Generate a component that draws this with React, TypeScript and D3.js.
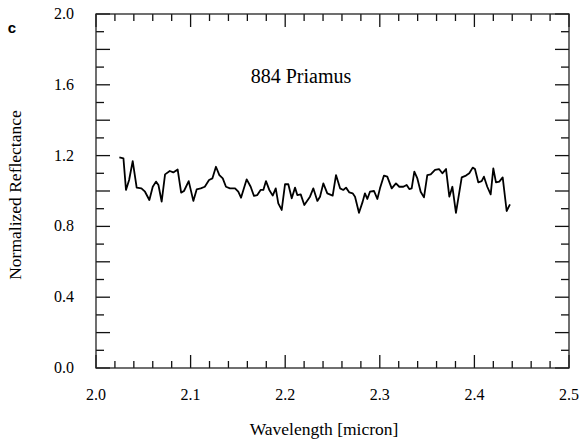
import React from "react";
import * as d3 from "d3";

const wavelength = [
  2.0247, 2.029, 2.0317, 2.035, 2.0388, 2.043, 2.048, 2.0518, 2.0564, 2.06,
  2.0634, 2.066, 2.0694, 2.073, 2.078, 2.0817, 2.0863, 2.09, 2.093, 2.098,
  2.1029, 2.1064, 2.1107, 2.115, 2.1195, 2.123, 2.1268, 2.1304, 2.134, 2.1374,
  2.1416, 2.147, 2.1504, 2.1533, 2.1593, 2.1635, 2.167, 2.1705, 2.174, 2.1769,
  2.1797, 2.1832, 2.1868, 2.19, 2.1927, 2.1963, 2.1998, 2.2033, 2.2069, 2.2104,
  2.2128, 2.2164, 2.2202, 2.2262, 2.2297, 2.234, 2.2368, 2.2403, 2.2445, 2.2502,
  2.2537, 2.258, 2.2614, 2.2643, 2.2678, 2.2713, 2.2738, 2.278, 2.2819, 2.2843,
  2.2868, 2.2896, 2.2939, 2.2974, 2.3002, 2.3044, 2.3079, 2.3126, 2.3171, 2.3206,
  2.3249, 2.3284, 2.3312, 2.3337, 2.3365, 2.3397, 2.3432, 2.3467, 2.3502, 2.3538,
  2.3584, 2.3626, 2.3661, 2.37, 2.3735, 2.3767, 2.3777, 2.3805, 2.3866, 2.3911,
  2.3946, 2.3982, 2.4006, 2.4041, 2.4077, 2.4101, 2.4136, 2.4172, 2.42, 2.4228,
  2.4263, 2.4299, 2.4341, 2.4376,
];

const reflectance = [
  1.19, 1.185, 1.006, 1.062, 1.169, 1.019, 1.015, 0.996, 0.949, 1.024,
  1.053, 1.034, 0.94, 1.094, 1.113, 1.105, 1.122, 0.991, 1.0, 1.056,
  0.944, 1.009, 1.015, 1.024, 1.062, 1.071, 1.137, 1.09, 1.071, 1.024,
  1.015, 1.015, 0.996, 0.962, 1.066, 1.024, 0.972, 0.977, 1.006, 1.006,
  1.056, 1.006, 0.974, 1.015, 0.93, 0.893, 1.038, 1.038, 0.959, 1.019,
  0.977, 0.981, 0.921, 0.968, 1.015, 0.944, 0.968, 1.043, 0.987, 0.974,
  1.09, 1.015, 1.006, 1.019, 0.992, 0.987, 0.968, 0.877, 0.94, 0.987,
  0.955, 0.996, 1.0, 0.955, 1.015, 1.087, 1.081, 1.015, 1.043, 1.024,
  1.024, 1.034, 1.011, 1.015, 1.109, 1.071, 0.996, 0.964, 1.09, 1.094,
  1.119, 1.124, 1.1, 1.124, 0.968, 1.024, 0.987, 0.877, 1.077, 1.087,
  1.1, 1.132, 1.124, 1.049, 1.056, 1.081, 1.024, 0.981, 1.128, 1.049,
  1.053, 1.077, 0.887, 0.925,
];

const xTickLabels = ["2.0", "2.1", "2.2", "2.3", "2.4", "2.5"];
const yTickLabels = ["0.0", "0.4", "0.8", "1.2", "1.6", "2.0"];
const title = "884 Priamus";
const panelLabel = "c";
const xTitle = "Wavelength [micron]";
const yTitle = "Normalized Reflectance";

const W = 583;
const H = 441;
const L = 96, R = 569, T = 14, B = 368;
const SERIF = "Liberation Serif";

export default function App() {
  const x = d3.scaleLinear().domain([2.0, 2.5]).range([L, R]);
  const y = d3.scaleLinear().domain([0, 2.0]).range([B, T]);
  const pts = wavelength.map((w, i) => [w, reflectance[i]] as [number, number]);
  const line = d3
    .line<[number, number]>()
    .x((d) => x(d[0]))
    .y((d) => y(d[1]));

  const xMinor = d3.range(0, 26).map((i) => 2.0 + i * 0.02);
  const yMinor = d3.range(0, 21).map((i) => i * 0.1);

  return (
    <svg
      width={W}
      height={H}
      style={{ position: "absolute", left: 0, top: 0, background: "#fff" }}
    >
      <rect x={0} y={0} width={W} height={H} fill="#fff" />
      <g stroke="#111" strokeWidth={1.3}>
        {xMinor.map((v, i) => {
          const major = i % 5 === 0;
          const len = major ? 13 : 7;
          const px = x(v);
          return (
            <g key={"xt" + i}>
              <line x1={px} x2={px} y1={B} y2={B - len} />
              <line x1={px} x2={px} y1={T} y2={T + len} />
            </g>
          );
        })}
        {yMinor.map((v, i) => {
          const major = i % 2 === 0;
          const len = major ? 14 : 8;
          const py = y(v);
          return (
            <g key={"yt" + i}>
              <line x1={L} x2={L + len} y1={py} y2={py} />
              <line x1={R} x2={R - len} y1={py} y2={py} />
            </g>
          );
        })}
      </g>
      <rect
        x={L}
        y={T}
        width={R - L}
        height={B - T}
        fill="none"
        stroke="#222"
        strokeWidth={1.3}
      />
      <path
        d={line(pts) || ""}
        fill="none"
        stroke="#000"
        strokeWidth={1.8}
        strokeLinejoin="round"
      />
      {xTickLabels.map((t) => (
        <text
          key={"xl" + t}
          x={x(+t)}
          y={400}
          textAnchor="middle"
          fontFamily={SERIF}
          fontSize={16}
          fill="#000"
        >
          {t}
        </text>
      ))}
      {yTickLabels.map((t) => (
        <text
          key={"yl" + t}
          x={74}
          y={y(+t) + 5}
          textAnchor="end"
          fontFamily={SERIF}
          fontSize={16}
          fill="#000"
        >
          {t}
        </text>
      ))}
      <text x={301} y={83} fontFamily={SERIF} fontSize={20} textAnchor="middle">
        {title}
      </text>
      <text
        x={12}
        y={33}
        fontFamily="Liberation Sans"
        fontWeight="bold"
        fontSize={15}
        textAnchor="middle"
      >
        {panelLabel}
      </text>
      <text x={324} y={435} fontFamily={SERIF} fontSize={17.5} textAnchor="middle">
        {xTitle}
      </text>
      <text
        transform={`translate(21, ${(T + B) / 2 + 4}) rotate(-90)`}
        fontFamily={SERIF}
        fontSize={17.5}
        textAnchor="middle"
      >
        {yTitle}
      </text>
    </svg>
  );
}
